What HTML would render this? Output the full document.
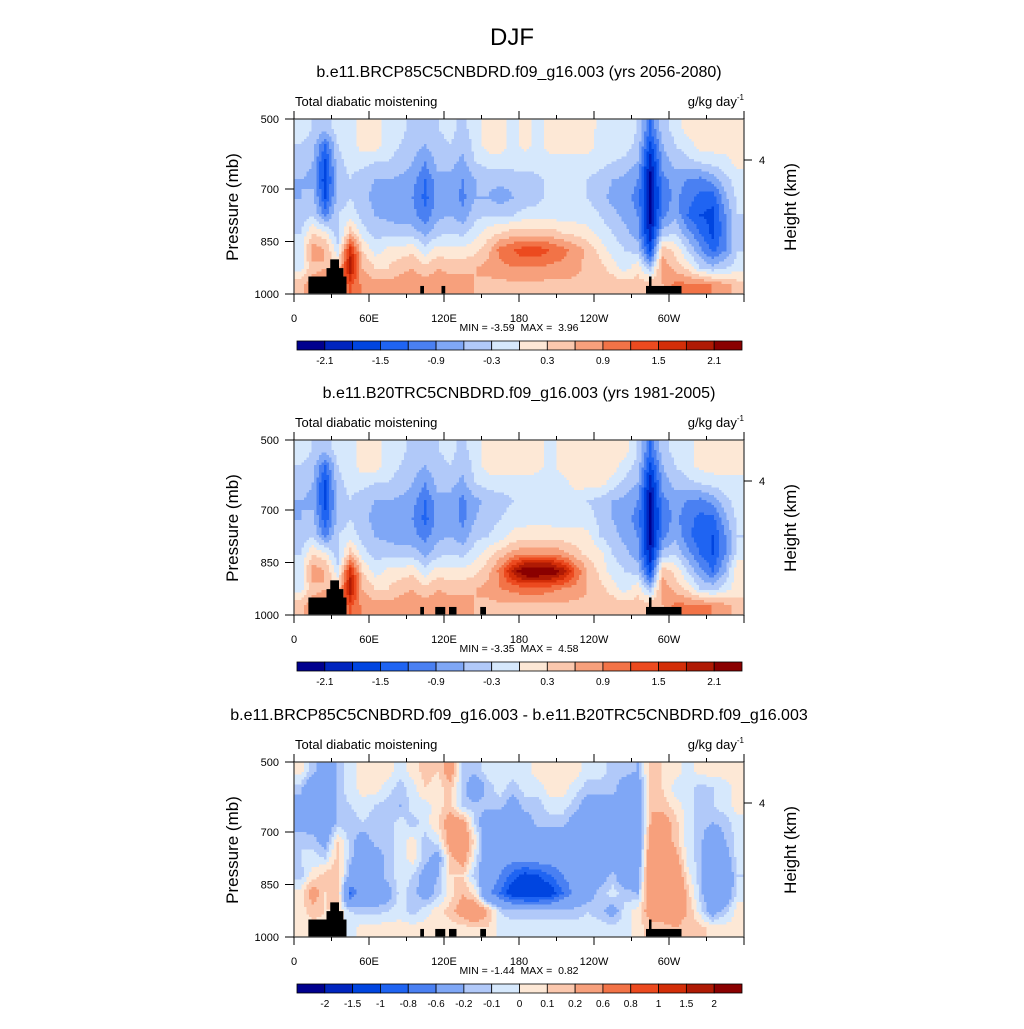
<!DOCTYPE html>
<html><head><meta charset="utf-8">
<style>
body{margin:0;background:#fff;}
svg text{font-family:"Liberation Sans",sans-serif;fill:#000;white-space:pre;}
</style></head>
<body>
<svg id="fig" width="1024" height="1024" viewBox="0 0 1024 1024" xmlns="http://www.w3.org/2000/svg">
<rect x="0" y="0" width="1024" height="1024" fill="#fff"/>
<text x="512" y="45" font-size="24" text-anchor="middle">DJF</text>
</svg>
<script>
// ---- data ----
var lonCenters = [5,15,25,35,45,55,65,75,85,95,105,115,125,135,145,155,165,175,185,195,205,215,225,235,245,255,265,275,285,295,305,315,325,335,345,355];
var presCenters = [525,575,625,675,725,775,825,875,925,975];
var levelsA = [-2.1,-1.8,-1.5,-1.2,-0.9,-0.6,-0.3,0,0.3,0.6,0.9,1.2,1.5,1.8,2.1];
var levelsB = [-2,-1.5,-1,-0.8,-0.6,-0.2,-0.1,0,0.1,0.2,0.6,0.8,1,1.5,2];
var labelsA = ["-2.1","-1.5","-0.9","-0.3","0.3","0.9","1.5","2.1"];
var labelsB = ["-2","-1.5","-1","-0.8","-0.6","-0.2","-0.1","0","0.1","0.2","0.6","0.8","1","1.5","2"];
var palette = ["#00008e","#0025bf","#0045e0","#1f64f2","#4a80f2","#7fa7f6","#b1c9f9","#d6e8fc","#fde8d6","#fbc8ae","#f7a07c","#f27347","#ec4a1f","#d32e08","#af1a04","#8a0000"];

var panel1 = [
[-0.1,-0.3,-0.5,-0.15,-0.15,0.15,0.15,-0.15,-0.2,-0.4,-0.45,-0.3,-0.2,-0.4,-0.15,0.15,0.1,-0.15,0.1,-0.15,0.15,0.15,0.15,0.15,-0.1,-0.15,-0.15,-0.3,-1.2,-0.4,-0.2,0.15,0.15,0.15,0.15,0.15],
[-0.3,-0.45,-1.2,-0.3,-0.15,0.15,0.15,-0.2,-0.3,-0.45,-0.6,-0.4,-0.3,-0.5,-0.2,0.15,0.15,-0.15,0.1,-0.15,0.15,0.15,0.15,0.15,-0.15,-0.15,-0.15,-0.4,-1.6,-0.6,-0.3,-0.15,0.15,0.15,0.15,0.15],
[-0.4,-0.6,-1.6,-0.4,-0.2,-0.2,-0.3,-0.3,-0.4,-0.6,-0.9,-0.5,-0.5,-0.7,-0.3,-0.2,-0.15,-0.15,-0.15,-0.15,-0.15,-0.15,-0.15,-0.15,-0.2,-0.3,-0.4,-0.6,-2.0,-0.8,-0.5,-0.4,-0.3,-0.2,-0.15,0.1],
[-0.6,-0.7,-1.7,-0.5,-0.3,-0.5,-0.6,-0.6,-0.7,-0.8,-1.2,-0.7,-0.7,-0.9,-0.6,-0.5,-0.5,-0.5,-0.45,-0.4,-0.2,-0.15,-0.15,-0.3,-0.45,-0.6,-0.7,-0.9,-2.2,-1.0,-0.8,-0.9,-1.0,-0.8,-0.4,-0.15],
[-0.6,-0.5,-1.5,-0.5,-0.3,-0.5,-0.7,-0.8,-0.8,-0.9,-1.3,-0.8,-0.7,-1.0,-0.6,-0.6,-0.8,-0.6,-0.5,-0.4,-0.2,-0.15,-0.15,-0.3,-0.5,-0.7,-0.8,-1.0,-2.2,-1.1,-0.8,-1.1,-1.3,-1.4,-0.7,-0.2],
[-0.5,-0.3,-1.0,-0.3,-0.15,-0.4,-0.6,-0.7,-0.75,-0.8,-1.1,-0.7,-0.6,-0.8,-0.4,-0.3,-0.3,-0.3,-0.15,-0.15,-0.15,-0.15,-0.15,-0.15,-0.3,-0.5,-0.7,-0.9,-2.2,-1.0,-0.7,-1.2,-1.5,-1.6,-0.9,-0.3],
[-0.3,0.3,0.1,-0.5,0.5,-0.2,-0.4,-0.4,-0.45,-0.45,-0.7,-0.4,-0.3,-0.4,-0.15,0.15,0.3,0.45,0.45,0.45,0.45,0.3,0.2,0.1,-0.15,-0.3,-0.5,-0.8,-2.0,-0.5,-0.3,-0.8,-1.2,-1.6,-1.0,-0.3],
[-0.2,0.8,0.6,-0.2,1.7,0.3,-0.15,0.1,0.15,0.2,-0.2,0.15,0.1,0.1,0.2,0.5,1.0,1.2,1.4,1.4,1.2,1.0,0.8,0.5,0.2,-0.15,-0.3,-0.4,-1.6,0.5,0.2,-0.3,-0.8,-1.3,-0.9,-0.3],
[-0.15,0.5,0.6,0.3,2.0,0.6,0.3,0.3,0.5,0.6,0.4,0.6,0.5,0.5,0.6,0.7,0.8,0.9,0.9,0.9,0.8,0.8,0.7,0.5,0.4,0.15,-0.15,0.2,-0.5,0.8,0.5,0.2,-0.3,-0.5,-0.3,-0.15],
[0.5,0.8,0.8,0.8,1.3,0.8,0.75,0.75,0.75,0.8,0.8,0.8,0.8,0.75,0.6,0.5,0.5,0.5,0.5,0.5,0.5,0.5,0.5,0.5,0.5,0.5,0.5,0.45,0.5,0.6,1.0,1.0,1.0,0.9,0.7,0.45]
];
var panel2 = [
[-0.1,-0.3,-0.5,-0.15,-0.15,0.15,0.15,-0.15,-0.2,-0.4,-0.45,-0.3,-0.2,-0.4,-0.15,0.15,0.15,0.15,0.15,0.15,-0.15,0.15,0.15,0.15,0.15,0.15,0.15,-0.3,-1.2,-0.4,-0.2,-0.15,0.15,0.15,0.15,0.15],
[-0.3,-0.45,-1.2,-0.3,-0.15,0.15,0.15,-0.2,-0.3,-0.45,-0.6,-0.4,-0.3,-0.5,-0.2,0.15,0.15,0.15,0.15,0.1,-0.15,0.15,0.15,0.15,0.15,0.15,-0.15,-0.4,-1.6,-0.6,-0.3,-0.15,0.1,0.15,0.15,0.15],
[-0.4,-0.6,-1.6,-0.4,-0.2,-0.2,-0.3,-0.3,-0.4,-0.6,-0.9,-0.5,-0.5,-0.7,-0.3,-0.2,-0.15,-0.15,-0.15,-0.15,-0.15,-0.15,0.1,0.1,0.1,-0.15,-0.4,-0.6,-2.0,-0.8,-0.5,-0.4,-0.3,-0.2,-0.15,-0.15],
[-0.6,-0.7,-1.6,-0.5,-0.3,-0.5,-0.6,-0.6,-0.7,-0.8,-1.2,-0.7,-0.7,-1.0,-0.7,-0.5,-0.45,-0.3,-0.15,-0.15,-0.15,-0.15,-0.15,-0.3,-0.45,-0.6,-0.7,-0.9,-2.2,-1.0,-0.8,-0.9,-1.0,-0.8,-0.4,-0.15],
[-0.6,-0.5,-1.4,-0.5,-0.3,-0.5,-0.7,-0.8,-0.8,-0.9,-1.3,-0.8,-0.7,-1.0,-0.6,-0.45,-0.3,-0.15,-0.15,-0.15,-0.15,-0.15,-0.15,-0.15,-0.4,-0.6,-0.8,-1.0,-2.2,-1.1,-0.8,-1.1,-1.3,-1.3,-0.7,-0.2],
[-0.5,-0.3,-1.0,-0.3,-0.15,-0.4,-0.6,-0.7,-0.75,-0.8,-1.0,-0.7,-0.6,-0.8,-0.4,-0.3,-0.15,0.1,0.2,0.2,0.2,0.15,0.15,0.1,-0.3,-0.5,-0.7,-0.9,-2.2,-1.0,-0.7,-1.1,-1.4,-1.5,-0.9,-0.3],
[-0.3,0.3,0.1,-0.5,0.5,-0.2,-0.4,-0.4,-0.45,-0.45,-0.7,-0.4,-0.3,-0.4,-0.15,0.15,0.45,0.7,0.9,0.9,0.9,0.7,0.45,0.2,0.1,-0.3,-0.5,-0.8,-2.0,-0.5,-0.3,-0.8,-1.2,-1.5,-0.9,-0.15],
[-0.2,0.8,0.6,-0.2,1.7,0.3,-0.15,0.1,0.15,0.2,-0.2,0.15,0.1,0.1,0.2,0.5,1.0,1.9,2.5,2.5,2.5,2.0,1.2,0.6,0.2,-0.15,-0.3,-0.4,-1.6,0.5,0.2,-0.3,-0.8,-1.2,-0.6,0.3],
[-0.15,0.5,0.6,0.3,2.0,0.6,0.3,0.3,0.5,0.6,0.4,0.6,0.5,0.5,0.6,0.7,0.9,1.0,1.1,1.1,1.0,0.9,0.8,0.6,0.4,0.15,-0.15,0.2,-0.5,0.8,0.5,0.2,-0.3,-0.4,-0.15,0.15],
[0.5,0.8,0.8,0.8,1.3,0.8,0.75,0.75,0.75,0.8,0.8,0.8,0.8,0.75,0.6,0.5,0.5,0.5,0.5,0.5,0.5,0.5,0.5,0.5,0.5,0.5,0.5,0.45,0.5,0.6,1.0,1.0,1.0,0.9,0.7,0.45]
];
var panel3 = [
[0.05,-0.15,-0.4,-0.15,-0.05,0.05,0.05,0.05,-0.05,0.05,0.15,0.1,0.3,-0.1,-0.15,-0.05,-0.05,-0.05,-0.05,0.05,0.05,0.05,0.05,-0.05,-0.05,-0.15,-0.15,-0.2,0.15,0.1,0.05,-0.05,0.05,0.05,0.05,0.05],
[-0.15,-0.4,-0.4,-0.15,-0.05,0.05,0.05,-0.05,-0.15,-0.05,0.1,0.05,0.15,-0.15,-0.4,-0.15,-0.05,-0.15,-0.05,-0.05,0.05,0.05,-0.05,-0.15,-0.15,-0.15,-0.3,-0.4,0.2,0.1,-0.05,-0.05,-0.15,-0.1,-0.05,0.05],
[-0.3,-0.4,-0.4,-0.15,-0.1,-0.05,-0.1,-0.15,-0.2,-0.05,-0.05,0.05,0.15,-0.15,-0.15,-0.15,-0.15,-0.3,-0.15,-0.15,-0.05,-0.05,-0.15,-0.3,-0.3,-0.3,-0.3,-0.4,0.2,0.15,0.05,-0.05,-0.15,-0.1,-0.05,0.05],
[-0.3,-0.3,-0.4,-0.15,-0.15,-0.1,-0.15,-0.15,-0.05,-0.15,-0.05,0.1,0.3,0.3,-0.1,-0.4,-0.4,-0.4,-0.3,-0.15,-0.15,-0.15,-0.3,-0.4,-0.4,-0.4,-0.4,-0.4,0.2,0.3,0.15,-0.05,-0.15,-0.2,-0.15,-0.05],
[-0.1,-0.15,-0.3,0.1,-0.15,-0.3,-0.15,-0.15,-0.05,0.05,-0.15,-0.05,0.3,0.4,0.05,-0.4,-0.4,-0.4,-0.4,-0.4,-0.4,-0.4,-0.4,-0.4,-0.4,-0.4,-0.4,-0.4,0.3,0.4,0.15,-0.05,-0.15,-0.4,-0.2,-0.05],
[-0.1,-0.05,-0.1,0.15,-0.15,-0.4,-0.3,-0.15,-0.05,0.05,-0.15,-0.3,0.15,0.3,-0.05,-0.4,-0.45,-0.5,-0.45,-0.45,-0.45,-0.45,-0.45,-0.45,-0.45,-0.4,-0.4,-0.4,0.4,0.4,0.3,-0.05,-0.15,-0.4,-0.3,-0.05],
[-0.15,0.05,0.15,0.2,-0.3,-0.5,-0.3,-0.15,-0.05,-0.1,-0.3,-0.2,0.1,0.1,-0.15,-0.4,-0.6,-0.9,-1.1,-1.0,-0.8,-0.6,-0.45,-0.4,-0.3,-0.15,-0.4,-0.3,0.4,0.5,0.4,0.05,-0.15,-0.4,-0.4,-0.1],
[0.05,0.3,0.1,0.2,-0.8,-0.4,-0.4,-0.3,-0.05,-0.15,-0.3,-0.15,0.05,0.2,0.05,-0.5,-0.8,-1.2,-1.3,-1.3,-1.2,-0.8,-0.5,-0.3,-0.15,-0.05,-0.15,-0.2,0.4,0.5,0.5,0.15,-0.15,-0.4,-0.4,-0.05],
[0.05,0.15,0.1,0.1,-0.1,-0.15,-0.15,-0.1,-0.05,-0.15,-0.05,0.05,0.15,0.3,0.4,0.2,-0.1,-0.15,-0.15,-0.15,-0.15,-0.15,-0.15,-0.1,-0.15,-0.3,-0.05,0.05,0.3,0.3,0.3,0.2,-0.05,-0.3,-0.15,0.05],
[0.05,0.05,0.05,0.05,-0.05,0.05,0.05,0.05,0.05,0.05,0.05,0.05,0.05,0.05,0.1,0.1,-0.05,-0.05,-0.05,-0.05,-0.05,-0.05,-0.05,-0.05,-0.05,-0.05,-0.05,0.05,0.15,0.15,0.2,0.15,0.15,0.05,0.05,0.05]
];
// topography boxes: [lonStart, lonEnd, pressureTop]
var topo1 = [[11.5,42,950],[26,39.5,926],[29,36,901],[101,104,977],[118,121,977],[281.6,310,977],[284,286,950]];
var topo2 = [[11.5,42,950],[26,39.5,926],[29,36,901],[101,104,977],[113,121,977],[124,130,977],[149,153.6,977],[281.6,310,977],[284,286,950]];
var topo3 = [[11.5,42,950],[26,39.5,926],[29,36,901],[101,104,977],[113,121,977],[124,130,977],[149,153.6,977],[281.6,310,977],[284,286,950]];
var xTickVals = [0,60,120,180,240,300];
var xTickLabels = ["0","60E","120E","180","120W","60W"];
var yTickVals = [500,700,850,1000];

var panels = [
 {top:119, data:panel1, topo:topo1, levels:levelsA, labels:labelsA, labelEvery:2, sub:"b.e11.BRCP85C5CNBDRD.f09_g16.003 (yrs 2056-2080)", minmax:"MIN = -3.59  MAX =  3.96"},
 {top:440, data:panel2, topo:topo2, levels:levelsA, labels:labelsA, labelEvery:2, sub:"b.e11.B20TRC5CNBDRD.f09_g16.003 (yrs 1981-2005)", minmax:"MIN = -3.35  MAX =  4.58"},
 {top:762, data:panel3, topo:topo3, levels:levelsB, labels:labelsB, labelEvery:1, sub:"b.e11.BRCP85C5CNBDRD.f09_g16.003 - b.e11.B20TRC5CNBDRD.f09_g16.003", minmax:"MIN = -1.44  MAX =  0.82"}
];

var NS="http://www.w3.org/2000/svg";
var svg=document.getElementById('fig');
function mk(tag,attrs,parent){var e=document.createElementNS(NS,tag);for(var k in attrs)e.setAttribute(k,attrs[k]);(parent||svg).appendChild(e);return e;}
var X0=294,X1=744,H=175;
function xScale(lon){return X0+(lon/360)*(X1-X0);}
function binOf(v,lv){var b=0;for(var i=0;i<lv.length;i++){if(v>lv[i])b=i+1;}return b;}
function sample(data,lon,p){
  var fi=(lon-lonCenters[0])/10; if(fi<0)fi=0; if(fi>lonCenters.length-1)fi=lonCenters.length-1;
  var fj=(p-presCenters[0])/50; if(fj<0)fj=0; if(fj>presCenters.length-1)fj=presCenters.length-1;
  var i0=Math.floor(fi),j0=Math.floor(fj),i1=Math.min(i0+1,lonCenters.length-1),j1=Math.min(j0+1,presCenters.length-1);
  var tx=fi-i0,ty=fj-j0;
  var a=data[j0][i0]*(1-tx)+data[j0][i1]*tx, b=data[j1][i0]*(1-tx)+data[j1][i1]*tx;
  return a*(1-ty)+b*ty;
}

panels.forEach(function(P,pi){
  var top=P.top;
  function yScale(p){return top+(p-500)/500*H;}
  var g=mk('g',{});
  
  
  var st=mk('text',{x:519,y:top-42,'font-size':16,'text-anchor':'middle'},g);
  st.textContent=P.sub;
  
  
  var lt=mk('text',{x:295,y:top-13,'font-size':13},g);
  lt.textContent='Total diabatic moistening';
  
  
  var ut=mk('text',{x:744,y:top-13,'font-size':13,'text-anchor':'end'},g);
  ut.innerHTML='g/kg day<tspan font-size="8" dy="-6">-1</tspan>';
  
  
  // field
  var fg=mk('g',{'shape-rendering':'crispEdges'},g);
  
  
  var step=2.5;
  for(var y=0;y<H;y+=step){
    var p=500+(y+step/2)/H*500;
    var runStart=0,runBin=-1;
    for(var x=0;x<=450;x+=step){
      var bn=-2;
      if(x<450){var lon=(x+step/2)/450*360; bn=binOf(sample(P.data,lon,p),P.levels);}
      if(bn!==runBin){
        if(runBin>=0){
          var r=mk('rect',{x:X0+runStart,y:top+y,width:x-runStart+0.3,height:step+0.3,fill:palette[runBin]},fg);
          
          
        }
        runStart=x;runBin=bn;
      }
    }
  }
  // topography
  P.topo.forEach(function(t){
    var r=mk('rect',{x:xScale(t[0]),y:yScale(t[2]),width:xScale(t[1])-xScale(t[0]),height:yScale(1000)-yScale(t[2]),fill:'#000'},g);
    
    
  });
  // frame
  var fr=mk('rect',{x:X0,y:top,width:450,height:H,fill:'none',stroke:'#444','stroke-width':1.3},g);
  
  
  // x ticks
  for(var lon=0;lon<=360;lon+=30){
    var major=(lon%60===0), len=major?8:4, xx=xScale(lon);
    mk('line',{x1:xx,x2:xx,y1:top,y2:top-len,stroke:'#000','stroke-width':1},g);
    mk('line',{x1:xx,x2:xx,y1:top+H,y2:top+H+len,stroke:'#000','stroke-width':1},g);
  }
  xTickVals.forEach(function(v,i){
    var t=mk('text',{x:xScale(v),y:top+H+28,'font-size':11,'text-anchor':'middle'},g);
    t.textContent=xTickLabels[i];
    
    
  });
  yTickVals.forEach(function(v){
    var yy=yScale(v);
    mk('line',{x1:X0-9,x2:X0,y1:yy,y2:yy,stroke:'#000','stroke-width':1},g);
    var t=mk('text',{x:279,y:yy+4,'font-size':11,'text-anchor':'end'},g);
    t.textContent=String(v);
    
    
  });
  mk('line',{x1:X1,x2:X1+8,y1:top+41,y2:top+41,stroke:'#000','stroke-width':1},g);
  var rt=mk('text',{x:759,y:top+45,'font-size':11},g);
  rt.textContent='4';
  
  
  var ya=mk('text',{x:0,y:0,'font-size':17,'text-anchor':'middle',transform:'translate(238,'+(top+88)+') rotate(-90)'},g);
  ya.textContent='Pressure (mb)';
  
  
  var ya2=mk('text',{x:0,y:0,'font-size':17,'text-anchor':'middle',transform:'translate(796,'+(top+88)+') rotate(-90)'},g);
  ya2.textContent='Height (km)';
  
  
  var mm=mk('text',{x:519,y:top+212,'font-size':10.5,'text-anchor':'middle'},g);
  mm.textContent=P.minmax;
  
  
  // colorbar
  var cb=mk('g',{},g);
  
  
  var cx0=297,cw=445/16,cy=top+222;
  palette.forEach(function(c,i){
    var r=mk('rect',{x:cx0+i*cw,y:cy,width:cw,height:9,fill:c,stroke:'#000','stroke-width':0.8},cb);
    
    
  });
  P.labels.forEach(function(lab,i){
    var idx=i*P.labelEvery;
    var t=mk('text',{x:cx0+(idx+1)*cw,y:cy+23,'font-size':10,'text-anchor':'middle'},cb);
    t.textContent=lab;
    
    
  });
});
</script>
</body></html>
